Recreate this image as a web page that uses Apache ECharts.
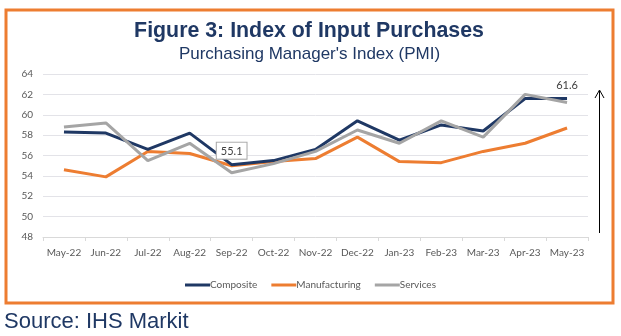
<!DOCTYPE html>
<html>
<head>
<meta charset="utf-8">
<script src="https://cdn.jsdelivr.net/npm/echarts@6/dist/echarts.min.js"></script>
<style>html,body{margin:0;padding:0;background:#fff;}#c{width:621px;height:336px;}</style>
</head>
<body>
<div id="c"></div>
<script>
const categories = ['May-22','Jun-22','Jul-22','Aug-22','Sep-22','Oct-22','Nov-22','Dec-22','Jan-23','Feb-23','Mar-23','Apr-23','May-23'];
const composite = [58.3,58.2,56.6,58.2,55.1,55.5,56.6,59.4,57.5,59.0,58.4,61.6,61.6];
const manufacturing = [54.6,53.9,56.4,56.2,55.0,55.4,55.7,57.8,55.4,55.3,56.4,57.2,58.7];
const services = [58.8,59.2,55.5,57.2,54.3,55.2,56.4,58.5,57.2,59.4,57.8,62.0,61.2];
const yTicks = [48,50,52,54,56,58,60,62,64];

const navy = '#1F3864', orange = '#ED7D31', gray = '#A5A5A5';
const sans = '"Liberation Sans", Arial, sans-serif';
const axisFont = 'Lato, "Open Sans", sans-serif';

const chart = echarts.init(document.getElementById('c'));
chart.setOption({
  animation: false,
  backgroundColor: '#fff',
  grid: {left: 43, right: 33, top: 74, bottom: 99, containLabel: false},
  legend: {
    bottom: 41, left: 'center', itemWidth: 25, itemHeight: 3, itemGap: 14,
    icon: 'rect',
    textStyle: {fontFamily: axisFont, fontSize: 10, color: '#595959', padding: [0,0,0,-5]},
    data: ['Composite','Manufacturing','Services']
  },
  xAxis: {
    type: 'category', data: categories, boundaryGap: true,
    axisLine: {lineStyle: {color: '#D9D9D9'}},
    axisTick: {show: true, length: 4, lineStyle: {color: '#D9D9D9'}},
    axisLabel: {fontFamily: axisFont, fontSize: 10, color: '#595959', margin: 11, interval: 0}
  },
  yAxis: {
    type: 'value', min: yTicks[0], max: yTicks[yTicks.length - 1], interval: 2,
    axisLine: {show: false}, axisTick: {show: false},
    splitLine: {lineStyle: {color: '#E3E3E8'}},
    axisLabel: {fontFamily: axisFont, fontSize: 10, color: '#595959', margin: 10}
  },
  series: [
    {name: 'Composite', type: 'line', data: composite, symbol: 'none', z: 4,
     lineStyle: {width: 3, color: navy}, itemStyle: {color: navy},
     markPoint: {
       symbol: 'circle', symbolSize: 0,
       data: [
         {coord: [4, composite[4]], value: composite[4],
          label: {show: true, position: 'top', distance: 6, formatter: '{c}',
                  fontFamily: axisFont, fontSize: 11, color: '#404040',
                  backgroundColor: '#fff', borderColor: '#A6A6A6', borderWidth: 1, padding: [3,4,2,4]}},
         {coord: [12, composite[12]], value: composite[12],
          label: {show: true, position: 'top', distance: 7, formatter: '{c}',
                  fontFamily: axisFont, fontSize: 11, color: '#404040'}}
       ]
     }},
    {name: 'Manufacturing', type: 'line', data: manufacturing, symbol: 'none', z: 3,
     lineStyle: {width: 3, color: orange}, itemStyle: {color: orange}},
    {name: 'Services', type: 'line', data: services, symbol: 'none', z: 5,
     lineStyle: {width: 3, color: gray}, itemStyle: {color: gray}}
  ],
  graphic: [
    {type: 'rect', shape: {x: 6, y: 10, width: 607, height: 293}, z: 0,
     style: {fill: null, stroke: orange, lineWidth: 3}},
    {type: 'text', x: 309, y: 31, scaleX: 0.97, z: 10,
     style: {text: 'Figure 3: Index of Input Purchases', font: 'bold 22px ' + sans, fill: navy,
             textAlign: 'center', textVerticalAlign: 'middle'}},
    {type: 'text', x: 309.5, y: 54.5, z: 10,
     style: {text: "Purchasing Manager's Index (PMI)", font: '17px ' + sans, fill: navy,
             textAlign: 'center', textVerticalAlign: 'middle'}},
    {type: 'text', x: 4, y: 322, z: 10,
     style: {text: 'Source: IHS Markit', font: '22px ' + sans, fill: navy,
             textAlign: 'left', textVerticalAlign: 'middle'}},
    {type: 'line', shape: {x1: 599.5, y1: 233, x2: 599.5, y2: 91}, z: 10,
     style: {stroke: '#000', lineWidth: 1}},
    {type: 'polyline', shape: {points: [[595, 98], [599.5, 90], [604, 98]]}, z: 10,
     style: {stroke: '#000', lineWidth: 1, fill: null}}
  ]
});
</script>
</body>
</html>
